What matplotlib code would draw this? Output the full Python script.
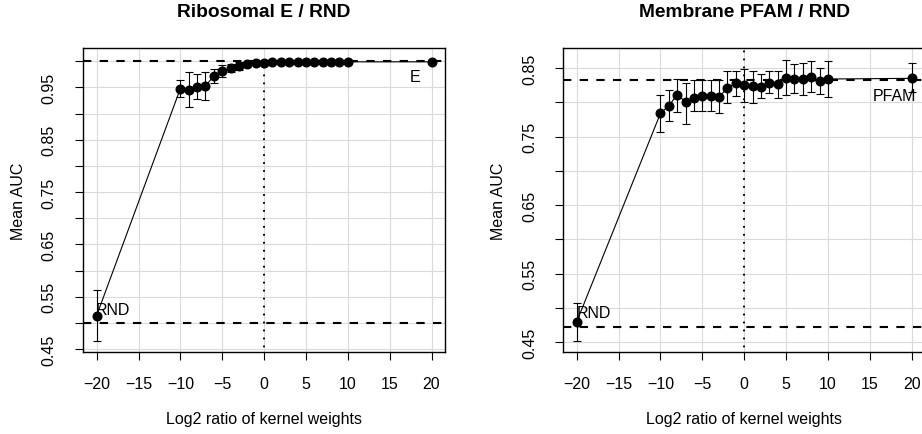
import matplotlib.pyplot as plt

plt.rcParams['font.family'] = ['Liberation Sans', 'DejaVu Sans']

# x positions (log2 ratio of kernel weights)
log2_ratio = [-20, -10, -9, -8, -7, -6, -5, -4, -3, -2, -1, 0,
              1, 2, 3, 4, 5, 6, 7, 8, 9, 10, 20]

# Ribosomal E / RND
ribo_mean = [0.514, 0.948, 0.945, 0.950, 0.953, 0.972, 0.981, 0.987, 0.991,
             0.994, 0.996, 0.997, 0.999, 0.999, 0.999, 0.999, 0.999, 0.999,
             0.999, 0.999, 0.999, 0.999, 0.999]
ribo_lo = [0.466, 0.931, 0.912, 0.928, 0.926, 0.958, 0.970, 0.979, 0.984,
           0.989, 0.993, 0.995, 0.998, 0.998, 0.998, 0.998, 0.998, 0.998,
           0.998, 0.998, 0.998, 0.998, 0.998]
ribo_hi = [0.562, 0.965, 0.980, 0.975, 0.980, 0.986, 0.993, 0.995, 0.998,
           0.998, 0.999, 0.999, 1.000, 1.000, 1.000, 1.000, 1.000, 1.000,
           1.000, 1.000, 1.000, 1.000, 1.000]
ribo_ref = [1.000, 0.499]   # E alone, RND alone

# Membrane PFAM / RND
memb_mean = [0.480, 0.784, 0.795, 0.811, 0.801, 0.807, 0.809, 0.809, 0.808,
             0.821, 0.828, 0.825, 0.824, 0.823, 0.828, 0.827, 0.836, 0.834,
             0.834, 0.837, 0.831, 0.834, 0.835]
memb_lo = [0.452, 0.757, 0.773, 0.786, 0.769, 0.787, 0.788, 0.788, 0.785,
           0.799, 0.809, 0.801, 0.799, 0.806, 0.813, 0.807, 0.811, 0.813,
           0.810, 0.815, 0.812, 0.808, 0.815]
memb_hi = [0.508, 0.811, 0.818, 0.834, 0.828, 0.832, 0.832, 0.833, 0.833,
           0.845, 0.846, 0.849, 0.846, 0.842, 0.845, 0.845, 0.862, 0.856,
           0.857, 0.861, 0.850, 0.861, 0.857]
memb_ref = [0.8325, 0.4723]  # PFAM alone, RND alone

x_ticks = [-20, -15, -10, -5, 0, 5, 10, 15, 20]

panels = [
    dict(title='Ribosomal E / RND', mean=ribo_mean, lo=ribo_lo, hi=ribo_hi,
         ref=ribo_ref, top_label='E', left=0.0903, ylim=(0.4437, 1.0254),
         yticks=[0.45, 0.50, 0.55, 0.60, 0.65, 0.70, 0.75, 0.80, 0.85, 0.90, 0.95, 1.00]),
    dict(title='Membrane PFAM / RND', mean=memb_mean, lo=memb_lo, hi=memb_hi,
         ref=memb_ref, top_label='PFAM', left=0.611, ylim=(0.4354, 0.8792),
         yticks=[0.45, 0.50, 0.55, 0.60, 0.65, 0.70, 0.75, 0.80, 0.85]),
]

fig = plt.figure(figsize=(9.22, 4.35), dpi=100)

for p in panels:
    ax = fig.add_axes([p['left'], 0.1878, 0.3923, 0.6995])
    ax.set_xlim(-21.6, 21.6)
    ax.set_ylim(*p['ylim'])

    # grid
    for xv in x_ticks:
        ax.axvline(xv, color='#dadada', lw=0.8, zorder=0)
    for yv in p['yticks']:
        ax.axhline(yv, color='#dadada', lw=0.8, zorder=0)

    # reference lines
    for r in p['ref']:
        ax.axhline(r, color='black', lw=1.5, linestyle=(0, (4, 4)), zorder=1)
    ax.vlines(0, 0, 1, color='black', lw=1.4, linestyles=[(0, (0.9, 3.2))], zorder=1)

    # data
    yerr = [[m - l for m, l in zip(p['mean'], p['lo'])],
            [h - m for m, h in zip(p['mean'], p['hi'])]]
    ax.errorbar(log2_ratio, p['mean'], yerr=yerr, fmt='none', ecolor='black',
                elinewidth=0.8, capsize=3, capthick=0.8, zorder=2)
    ax.plot(log2_ratio, p['mean'], color='black', lw=0.8, marker='o',
            markersize=6.2, zorder=3)

    # labels at the ends
    yr = p['ylim'][1] - p['ylim'][0]
    ax.text(18, p['ref'][0] - 0.05 * yr, p['top_label'], ha='center', va='center',
            fontsize=11.5)
    ax.text(-18, p['ref'][1] + 0.047 * yr, 'RND', ha='center', va='center',
            fontsize=11.5)

    ax.set_xticks(x_ticks)
    ax.set_xticklabels([str(v) if v >= 0 else '\u2212' + str(-v) for v in x_ticks])
    ax.set_yticks(p['yticks'])
    ax.set_yticklabels(['%.2f' % v if round(v * 100) % 10 == 5 else ''
                        for v in p['yticks']], rotation=90, va='center')
    ax.tick_params(axis='x', labelsize=11.5, length=6, width=0.8, pad=11,
                   direction='out')
    ax.tick_params(axis='y', labelsize=11.5, length=6, width=0.8, pad=13,
                   direction='out')
    for s in ax.spines.values():
        s.set_linewidth(1.0)

    ax.set_xlabel('Log2 ratio of kernel weights', fontsize=11.5)
    ax.xaxis.set_label_coords(0.5, -0.219)
    ax.xaxis.label.set_va('center')
    ax.set_ylabel('Mean AUC', fontsize=11.5)
    ax.yaxis.set_label_coords(-0.18, 0.5)
    ax.yaxis.label.set_va('center')

    ax.text(0.5, 1.1216, p['title'], transform=ax.transAxes, ha='center',
            va='center', fontsize=13.8, fontweight='bold')

fig.savefig('out.png', dpi=100)
